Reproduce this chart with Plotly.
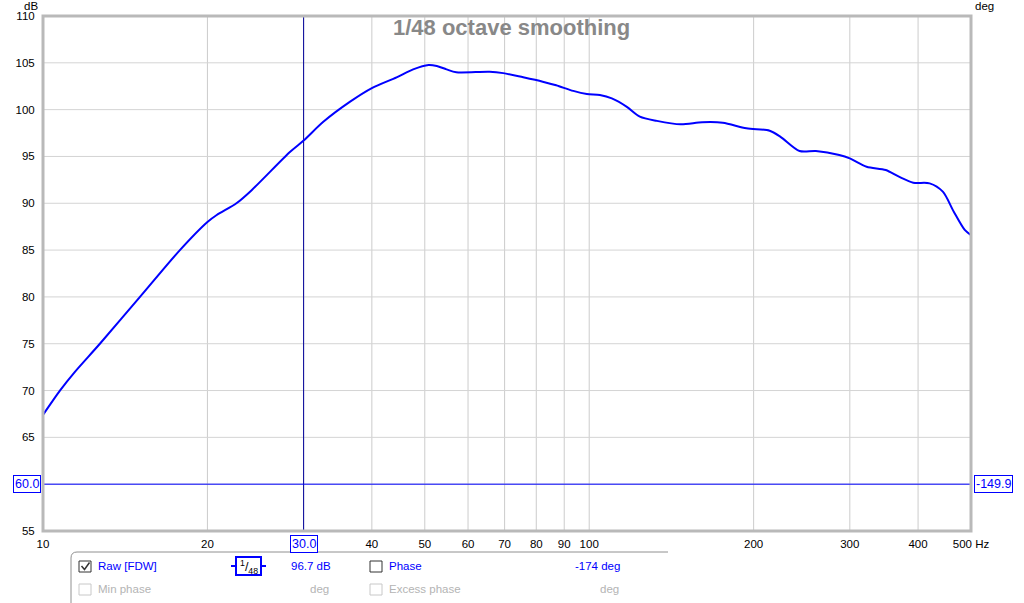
import math
import plotly.graph_objects as go

# ---- data ----
freq_hz = [10, 10.74, 11.44, 12.71, 15.05, 17.81, 20.0, 20.8, 22.6, 24.1, 28.35, 30.0, 32.6,
           36.5, 40.0, 44.4, 47.6, 50.8, 52.6, 54.8, 57.1, 65.7, 69.6, 75.7, 82.2, 87.0,
           93.5, 99.0, 104.6, 110, 117.2, 123.8, 133, 147, 161, 175.6, 194, 214, 224,
           242.7, 260, 287, 300, 322, 349, 369, 392, 420, 444, 465, 487, 500]
spl_db = [67.4, 70.0, 72.0, 75.0, 80.0, 85.0, 88.0, 88.75, 90.0, 91.4, 95.5, 96.7, 98.7,
          100.85, 102.3, 103.45, 104.3, 104.77, 104.66, 104.3, 104.0, 104.05, 103.9, 103.45,
          102.98, 102.6, 102.0, 101.67, 101.56, 101.2, 100.3, 99.25, 98.8, 98.43, 98.65,
          98.6, 98.0, 97.75, 97.1, 95.58, 95.58, 95.16, 94.8, 93.9, 93.55, 92.84, 92.2,
          92.13, 91.24, 89.1, 87.15, 86.6]

x_tick_vals = [10, 20, 40, 50, 60, 70, 80, 90, 100, 200, 300, 400, 500]
x_tick_text = ["10", "20", "40", "50", "60", "70", "80", "90", "100", "200", "300", "400", "500 Hz"]
x_grid_vals = [20, 30, 40, 50, 60, 70, 80, 90, 100, 200, 300, 400]
db_ticks = [55, 65, 70, 75, 80, 85, 90, 95, 100, 105, 110]
db_grid = [60, 65, 70, 75, 80, 85, 90, 95, 100, 105]
deg_ticks = [-180, -120, -90, -60, -30, 0, 30, 60, 90, 120, 150]

cursor_freq = 30.0
cursor_db = 60.0
cursor_deg = -149.9
title_text = "1/48 octave smoothing"
readout_spl = "96.7 dB"
readout_phase = "-174 deg"

# ---- geometry (page pixels) ----
W, H = 1024, 603
L, R, T, B = 43, 971, 16, 531
PW, PH = R - L, B - T
XMIN, XMAX = 10, 500
YMIN, YMAX = 55, 110


def px(x):
    return (x - L) / PW


def py(y):
    return (B - y) / PH


BLUE = "#0000ff"
GRAY_TXT = "#b4b4b4"
FONT = "Liberation Sans, Arial, sans-serif"

fig = go.Figure()

# cursor lines
fig.add_trace(go.Scatter(x=[cursor_freq, cursor_freq], y=[YMIN, YMAX], mode="lines",
                         line=dict(color="#00009a", width=1), hoverinfo="skip", showlegend=False))
fig.add_trace(go.Scatter(x=[XMIN, XMAX], y=[cursor_db, cursor_db], mode="lines",
                         line=dict(color=BLUE, width=1), hoverinfo="skip", showlegend=False))

# main curve
fig.add_trace(go.Scatter(x=freq_hz, y=spl_db, mode="lines",
                         line=dict(color=BLUE, width=2, shape="spline", smoothing=0.8),
                         showlegend=False, name="Raw [FDW]"))

shapes = []
annotations = []

# grid lines (drawn below traces)
for g in x_grid_vals:
    xp = math.log10(g / XMIN) / math.log10(XMAX / XMIN)
    shapes.append(dict(type="line", xref="paper", yref="paper", x0=xp, x1=xp, y0=0, y1=1,
                       line=dict(color="#cccccc", width=1), layer="below"))
for g in db_grid:
    yp = (g - YMIN) / (YMAX - YMIN)
    shapes.append(dict(type="line", xref="paper", yref="paper", x0=0, x1=1, y0=yp, y1=yp,
                       line=dict(color="#d4d4d4", width=1), layer="below"))

# frame
shapes.append(dict(type="rect", xref="paper", yref="paper", x0=0, x1=1, y0=0, y1=1,
                   line=dict(color="#b9b9b9", width=3), layer="above"))

# legend panel border (top + left with rounded corner)
x0p, x1p, ytp, ybp = 71, 668, 552, 610
r = 6
path = (f"M {px(x0p)},{py(ybp)} L {px(x0p)},{py(ytp + r)} "
        f"Q {px(x0p)},{py(ytp)} {px(x0p + r)},{py(ytp)} L {px(x1p)},{py(ytp)}")
shapes.append(dict(type="path", xref="paper", yref="paper", path=path,
                   line=dict(color="#909090", width=1)))


def box(x0, y0, x1, y1, color, width=1):
    shapes.append(dict(type="rect", xref="paper", yref="paper", x0=px(x0), x1=px(x1),
                       y0=py(y1), y1=py(y0), line=dict(color=color, width=width),
                       fillcolor="white"))


# checkboxes
box(79, 561, 91, 572, "#333333")
box(370, 561, 382, 572, "#333333")
box(79, 584, 91, 595, "#c8c8c8")
box(370, 584, 382, 595, "#c8c8c8")
shapes.append(dict(type="path", xref="paper", yref="paper",
                   path=f"M {px(81.5)},{py(566)} L {px(84.5)},{py(569.5)} L {px(89.5)},{py(562.5)}",
                   line=dict(color="#333333", width=1.5)))

# smoothing icon
shapes.append(dict(type="line", xref="paper", yref="paper", x0=px(231), x1=px(266),
                   y0=py(566), y1=py(566), line=dict(color=BLUE, width=2)))
box(236, 557, 261, 575, BLUE, width=2)


def text(x, y, s, color="#000000", size=11.5, xanchor="left", bold=False, **kw):
    annotations.append(dict(xref="paper", yref="paper", x=px(x), y=py(y), text=(f"<b>{s}</b>" if bold else s),
                            showarrow=False, xanchor=xanchor, yanchor="middle",
                            font=dict(family=FONT, size=size, color=color), **kw))


text(249, 567, "<sup>1</sup>/<sub>48</sub>", size=12.5, xanchor="center")
text(96, 566, "Raw [FDW]", color=BLUE)
text(333, 566, readout_spl, color=BLUE, xanchor="right")
text(387, 566, "Phase", color=BLUE)
text(622, 566, readout_phase, color=BLUE, xanchor="right")
text(96, 589, "Min phase", color=GRAY_TXT)
text(331, 589, "deg", color=GRAY_TXT, xanchor="right")
text(387, 589, "Excess phase", color=GRAY_TXT)
text(621, 589, "deg", color=GRAY_TXT, xanchor="right")

# axis unit labels and title
text(31, 6, "dB", xanchor="center", size=11.5)
text(984, 6, "deg", xanchor="center", size=11.5)
text(511, 28, title_text, color="#888888", size=22, xanchor="center", bold=True)

# cursor value boxes
cx = L + PW * math.log10(cursor_freq / XMIN) / math.log10(XMAX / XMIN)
cy = B - PH * (cursor_db - YMIN) / (YMAX - YMIN)
for (xx, yy, s, xa) in [(41, cy, f"{cursor_db:.1f}", "right"),
                        (974, cy, f"{cursor_deg:.1f}", "left"),
                        (cx, 544, f"{cursor_freq:.1f}", "center")]:
    annotations.append(dict(xref="paper", yref="paper", x=px(xx), y=py(yy), text=s,
                            showarrow=False, xanchor=xa, yanchor="middle",
                            font=dict(family=FONT, size=12.5, color=BLUE),
                            bordercolor=BLUE, borderwidth=1, borderpad=1, bgcolor="white"))

fig.update_layout(
    width=W, height=H, autosize=False,
    margin=dict(l=L, r=W - R, t=T, b=H - B, pad=0),
    paper_bgcolor="white", plot_bgcolor="white",
    font=dict(family=FONT, size=11.5, color="#000000"),
    xaxis=dict(type="log", range=[math.log10(XMIN), math.log10(XMAX)],
               tickvals=x_tick_vals, ticktext=x_tick_text, showgrid=False,
               zeroline=False, showline=False,
               ticks="outside", ticklen=2, tickcolor="rgba(0,0,0,0)", automargin=False,
               tickfont=dict(family=FONT, size=11.5, color="#000000")),
    yaxis=dict(range=[YMIN, YMAX], tickvals=db_ticks, showgrid=False,
               zeroline=False, showline=False,
               ticks="outside", ticklen=5, tickcolor="rgba(0,0,0,0)", automargin=False,
               tickfont=dict(family=FONT, size=11.5, color="#000000")),
    yaxis2=dict(range=[-180, 150], tickvals=deg_ticks,
                overlaying="y", side="right",
                anchor="x", showgrid=False, zeroline=False, showline=False, automargin=False,
                ticks="outside", ticklen=2, tickcolor="rgba(0,0,0,0)",
                tickfont=dict(family=FONT, size=11.5, color="#000000")),
    shapes=shapes, annotations=annotations, showlegend=False,
)

fig.write_html("out.html", config={"displayModeBar": False},
               post_script="document.body.style.margin='0';")
